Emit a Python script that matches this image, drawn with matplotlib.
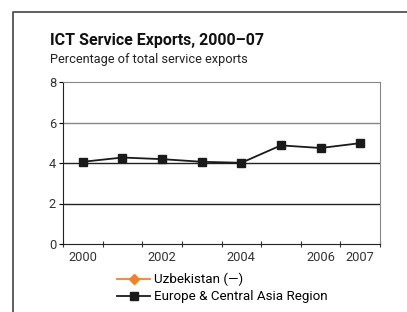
import numpy as np
import matplotlib.pyplot as plt
from matplotlib.lines import Line2D

years = [2000, 2001, 2002, 2003, 2004, 2005, 2006, 2007]
eca = [4.06, 4.27, 4.19, 4.06, 4.01, 4.87, 4.74, 4.98]
uzb = [np.nan] * 8
label_years = [2000, 2002, 2004, 2006, 2007]

plt.rcParams['font.family'] = ['Roboto', 'DejaVu Sans']

W, H = 407, 312
fig = plt.figure(figsize=(W / 100, H / 100), dpi=100)

# outer frame (open at right/bottom)
fig.add_artist(Line2D([13 / W, 13 / W, 1], [0, 1 - 12 / H, 1 - 12 / H],
                      color='#444444', lw=1.2, transform=fig.transFigure))

fig.text(50 / W, 1 - 41 / H, 'ICT Service Exports, 2000\u201307', fontsize=11.5,
         fontweight='bold', va='center', ha='left', color='#111111')
fig.text(50 / W, 1 - 60 / H, 'Percentage of total service exports', fontsize=9.2,
         va='center', ha='left', color='#222222')

ax = fig.add_axes([63 / W, 1 - 244 / H, (380 - 63) / W, (244 - 82) / H])
x = np.arange(len(years))
ax.plot(x, uzb, color='#F58220', marker='D', ms=5, lw=1.3, label='Uzbekistan (\u2014)')
ax.plot(x, eca, color='#1a1a1a', marker='s', ms=5.5, lw=1.3,
        label='Europe & Central Asia Region')

ax.set_ylim(0, 8)
ax.set_yticks([0, 2, 4, 6, 8])
ax.set_xlim(-0.5, 7.5)
ax.set_xticks(np.arange(-0.5, 8, 1))
ax.set_xticklabels([])
ax.set_xticks([years.index(y) for y in label_years], minor=True)
ax.set_xticklabels([str(y) for y in label_years], minor=True)
ax.tick_params(axis='x', which='minor', length=0, pad=5, labelsize=9.3, labelcolor='#333333')
ax.tick_params(axis='x', which='major', length=4, direction='inout', color='#333333')
ax.tick_params(axis='y', length=3, labelsize=9.3, labelcolor='#333333', pad=2)

for v in [2, 4]:
    ax.axhline(v, color='#222222', lw=1, zorder=0)
ax.axhline(6, color='#888888', lw=1, zorder=0)
ax.spines['top'].set_color('#888888')
ax.spines['right'].set_color('#888888')
ax.spines['left'].set_color('#222222')
ax.spines['bottom'].set_color('#222222')

ax.legend(loc='upper left', bbox_to_anchor=(117 / W, 1 - 273 / H), bbox_transform=fig.transFigure,
          frameon=False, fontsize=9.6, handlelength=2.5, handletextpad=0.25,
          labelspacing=0.3, borderpad=0, borderaxespad=0)

fig.savefig('out.png', dpi=100)
